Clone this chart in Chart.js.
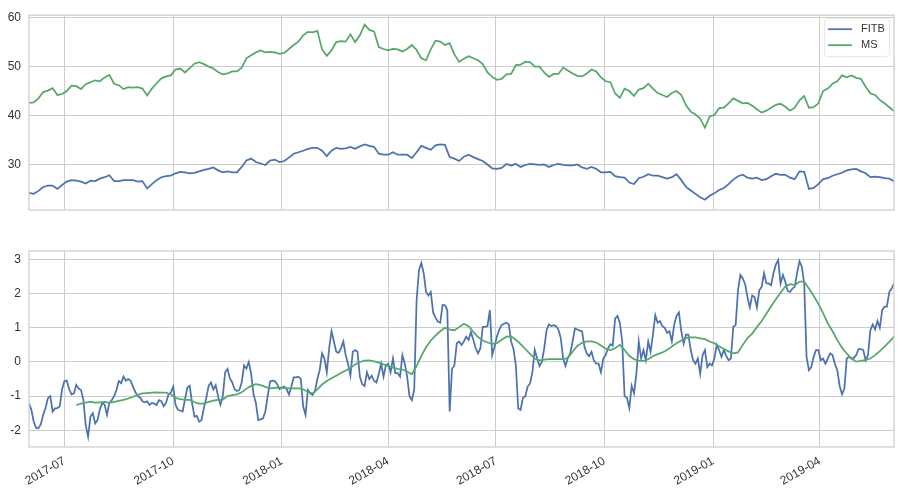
<!DOCTYPE html>
<html><head><meta charset="utf-8">
<script src="https://cdn.jsdelivr.net/npm/chart.js@4.4.0/dist/chart.umd.min.js"></script>
<style>
html,body{margin:0;padding:0;background:#fff;}
#wrap{position:relative;width:902px;height:492px;overflow:hidden;background:#fff;}
#c1{position:absolute;left:0;top:0;}
#c2{position:absolute;left:0;top:230px;}
</style></head><body>
<div id="wrap"><canvas id="c1" width="902" height="230"></canvas><canvas id="c2" width="902" height="262"></canvas></div>
<script>
// ---------------- data ----------------
const START_DATE = '2017-06-01';
const PRICE_STEP_DAYS = 4;     // spacing of price / rolling samples (calendar days)
const ZSCORE_STEP_DAYS = 2;    // spacing of z-score samples (calendar days)
const END_DATE = '2019-06-03';
const xTickLabels = ['2017-07','2017-10','2018-01','2018-04','2018-07','2018-10','2019-01','2019-04'];
const priceTicks = [30, 40, 50, 60];
const zTicks = [-2, -1, 0, 1, 2, 3];
const seriesNames = ['FITB', 'MS'];

const fitb = [24.2,24.0,24.6,25.4,25.7,25.7,25.0,25.8,26.5,26.8,
26.7,26.5,26.1,26.7,26.6,27.1,27.4,27.8,26.6,26.6,
26.8,26.8,26.8,26.5,26.6,25.1,26.0,26.8,27.4,27.6,
27.7,28.2,28.5,28.4,28.2,28.3,28.6,28.9,29.1,29.4,
28.8,28.4,28.6,28.4,28.4,29.5,30.8,31.2,30.5,30.2,
29.9,30.8,31.0,30.5,30.7,31.4,32.2,32.5,32.8,33.2,
33.4,33.4,32.8,31.7,32.8,33.4,33.2,33.3,33.6,33.2,
33.7,34.1,33.8,33.6,32.2,32.0,32.0,32.5,32.0,32.0,
32.0,31.3,32.5,33.8,33.4,33.0,33.9,34.1,34.0,31.5,
31.2,30.7,31.6,32.0,31.5,31.1,30.7,30.0,29.2,29.1,
29.3,30.1,29.8,30.1,29.5,29.9,30.1,30.0,29.9,30.0,
29.5,29.9,30.1,29.9,29.8,29.8,30.0,29.4,29.1,29.5,
29.1,28.4,28.4,28.5,27.6,27.4,27.3,26.3,26.0,27.2,
27.5,28.0,27.7,27.7,27.4,27.1,27.4,28.0,26.8,25.4,
24.7,24.0,23.3,22.8,23.6,24.1,24.8,25.2,26.0,26.9,
27.6,27.9,27.3,27.1,27.3,26.8,27.0,27.6,28.1,27.9,
27.9,27.3,27.0,28.6,28.5,25.0,25.2,26.0,27.0,27.2,
27.7,28.0,28.3,28.8,29.0,29.1,28.6,28.2,27.4,27.5,
27.4,27.2,27.1,26.6];

const ms = [42.6,42.7,43.5,44.8,45.1,45.6,44.2,44.4,45.0,46.1,
46.0,45.4,46.4,46.8,47.2,47.0,47.8,48.3,46.5,46.2,
45.4,45.8,45.7,45.8,45.5,44.1,45.5,46.6,47.6,48.0,
48.2,49.4,49.6,48.8,49.7,50.6,50.9,50.5,50.0,49.6,
48.9,48.4,48.6,49.0,49.0,49.8,51.7,52.3,52.9,53.3,
52.9,53.0,52.9,52.6,52.8,53.6,54.4,55.1,56.4,57.1,
57.0,57.3,53.5,52.2,53.3,55.0,55.2,55.1,56.6,55.0,
56.4,58.6,57.5,57.2,54.0,53.6,53.3,53.6,53.5,53.1,
53.6,54.4,53.4,51.7,51.3,53.5,55.3,55.1,54.4,54.8,
52.5,51.0,51.6,52.1,51.7,51.3,50.5,48.8,47.9,47.3,
47.5,48.4,48.5,50.3,50.4,51.0,50.9,50.0,50.0,48.8,
47.9,48.5,48.5,49.8,49.2,48.6,48.1,48.0,48.6,49.4,
49.0,47.8,47.0,46.8,44.5,43.6,45.5,45.0,44.0,45.3,
45.6,46.5,45.5,44.6,44.2,43.8,44.6,45.0,44.2,42.1,
40.8,40.2,39.4,37.5,39.8,40.1,41.5,41.6,42.5,43.5,
43.0,42.5,42.6,42.0,41.3,40.6,41.0,41.6,42.2,42.4,
41.8,41.0,41.6,43.1,44.0,41.6,41.7,42.5,45.0,45.5,
46.5,47.0,48.2,47.8,48.2,47.7,47.5,45.9,44.5,44.2,
43.2,42.5,41.7,40.9];

const zscore = [-1.21,-1.4,-1.75,-1.93,-1.94,-1.82,-1.55,-1.35,-1.06,-1.0,
-1.45,-1.36,-1.35,-1.3,-0.8,-0.56,-0.55,-0.8,-0.95,-0.92,
-0.67,-0.78,-0.82,-1.1,-1.85,-2.19,-1.6,-1.5,-1.8,-1.7,
-1.38,-1.2,-1.25,-1.55,-1.2,-1.12,-1.0,-0.82,-0.56,-0.62,
-0.43,-0.55,-0.5,-0.55,-0.72,-0.88,-1.0,-1.04,-1.15,-1.18,
-1.15,-1.26,-1.2,-1.22,-1.26,-1.12,-1.15,-1.3,-1.2,-0.95,
-0.9,-0.72,-1.25,-1.4,-1.42,-1.45,-1.1,-0.75,-0.7,-1.2,
-1.6,-1.58,-1.75,-1.7,-1.35,-1.06,-0.7,-0.6,-0.8,-0.68,
-1.0,-1.25,-1.0,-0.3,-0.2,-0.48,-0.6,-0.8,-0.85,-0.82,
-0.6,-0.1,-0.19,0.0,-0.35,-0.95,-1.2,-1.7,-1.68,-1.65,
-1.45,-1.0,-0.57,-0.55,-0.56,-0.65,-0.8,-0.75,-0.72,-0.8,
-0.95,-0.72,-0.45,-0.45,-0.43,-0.5,-1.3,-1.55,-0.82,-0.92,
-0.97,-0.85,-0.5,-0.24,0.25,0.1,-0.3,0.4,0.9,0.6,
0.3,0.27,0.4,0.6,0.2,-0.05,-0.4,0.3,0.35,0.3,
-0.43,-0.65,-0.7,-0.3,-0.5,-0.4,-0.55,-0.6,-0.35,-0.05,
-0.43,-0.1,-0.05,-0.3,0.1,-0.33,-0.33,-0.43,0.2,-0.05,
-0.43,-1.0,-1.12,-0.8,1.8,2.69,2.9,2.6,2.05,1.95,
2.05,1.45,1.3,1.18,1.15,1.67,1.66,1.52,-1.45,-0.2,
-0.1,0.55,0.6,0.5,0.6,0.74,0.65,0.88,0.65,0.4,
0.25,0.4,1.03,1.03,1.05,1.52,0.2,0.45,0.75,0.95,
1.08,1.12,1.15,1.1,0.6,0.38,-0.1,-1.36,-1.4,-1.05,
-1.0,-0.72,-0.63,-0.3,0.35,0.1,-0.12,0.0,0.4,0.93,
1.1,1.05,1.08,1.05,0.95,0.7,0.1,-0.12,0.12,0.25,
0.6,0.98,0.95,0.92,0.9,0.45,0.25,0.17,0.3,0.05,
-0.05,-0.05,-0.3,0.1,0.2,0.4,0.52,0.48,1.27,1.35,
1.15,0.6,-1.0,-1.05,-1.35,-0.7,-0.92,-0.35,0.6,0.1,
0.35,0.05,0.6,0.3,0.8,1.37,1.15,1.2,1.05,1.0,
0.85,0.9,0.6,1.1,1.35,1.45,0.9,0.54,0.8,0.8,
0.35,0.05,-0.05,0.1,-0.35,0.2,0.35,-0.15,-0.05,-0.1,
0.1,0.5,0.35,0.15,0.35,0.18,0.05,0.1,1.03,1.08,
2.1,2.55,2.45,2.28,1.9,1.6,1.95,1.9,1.6,2.1,
2.2,2.6,2.3,2.3,2.25,2.6,2.85,2.98,2.3,2.55,
2.35,2.08,2.05,2.15,2.2,2.6,2.95,2.79,2.3,0.15,
-0.24,-0.15,0.15,0.35,0.35,0.05,0.1,-0.05,0.1,0.25,
0.2,-0.05,-0.24,-0.7,-0.95,-0.78,0.1,0.15,0.1,0.12,
0.2,0.38,0.38,0.35,0.05,0.2,0.93,1.1,0.95,1.2,
1.0,1.52,1.62,1.62,2.05,2.15,2.3];

const zscoreRolling = [null,null,null,null,null,null,null,null,null,null,
-1.26,-1.22,-1.19,-1.16,-1.19,-1.18,-1.17,-1.2,-1.17,-1.14,
-1.11,-1.07,-1.02,-0.96,-0.92,-0.91,-0.9,-0.89,-0.9,-0.9,
-0.95,-1.05,-1.09,-1.11,-1.11,-1.18,-1.22,-1.22,-1.17,-1.13,
-1.11,-1.1,-1.0,-0.97,-0.95,-0.89,-0.78,-0.7,-0.65,-0.68,
-0.73,-0.77,-0.76,-0.75,-0.76,-0.77,-0.77,-0.77,-0.8,-0.88,
-0.92,-0.8,-0.66,-0.56,-0.48,-0.4,-0.32,-0.25,-0.18,-0.07,
0.0,0.04,0.05,0.02,-0.02,-0.07,-0.12,-0.17,-0.2,-0.22,
-0.28,-0.36,-0.12,0.18,0.43,0.63,0.77,0.9,1.0,0.95,
0.93,1.02,1.12,1.05,0.88,0.73,0.63,0.57,0.53,0.55,
0.65,0.74,0.75,0.65,0.52,0.38,0.24,0.1,0.05,0.07,
0.08,0.08,0.08,0.08,0.12,0.3,0.47,0.56,0.6,0.6,
0.57,0.48,0.39,0.35,0.4,0.5,0.35,0.18,0.08,0.04,
0.03,0.08,0.17,0.23,0.28,0.35,0.45,0.55,0.63,0.7,
0.72,0.72,0.69,0.67,0.6,0.55,0.46,0.38,0.31,0.25,
0.28,0.5,0.7,0.83,1.02,1.2,1.41,1.63,1.84,2.03,
2.21,2.28,2.25,2.35,2.35,2.15,1.94,1.7,1.43,1.13,
0.9,0.64,0.42,0.25,0.1,0.01,0.03,0.06,0.1,0.2,
0.32,0.45,0.59,0.74];

// ---------------- helpers ----------------
const BLUE = '#4C72B0', GREEN = '#55A868', GRID = '#cccccc', TEXT = '#333333';
const FONT = {family: "'Liberation Sans', Arial, Helvetica, sans-serif", size: 12};
const DAY_MS = 864e5;
const t0 = Date.parse(START_DATE + 'T00:00:00Z');
const dayOf = s => (Date.parse((s.length === 7 ? s + '-01' : s) + 'T00:00:00Z') - t0) / DAY_MS;
const xEnd = dayOf(END_DATE);
const xTickDays = xTickLabels.map(dayOf);
const toPoints = (arr, step) => arr.map((v, i) => ({x: i * step, y: v}));

Chart.defaults.font = FONT;
Chart.defaults.color = TEXT;
Chart.defaults.animation = false;

const frame = {
  id: 'frame',
  afterDraw(chart) {
    const a = chart.chartArea, ctx = chart.ctx;
    ctx.save();
    ctx.strokeStyle = GRID; ctx.lineWidth = 1.25;
    ctx.strokeRect(a.left, a.top, a.right - a.left, a.bottom - a.top);
    ctx.restore();
  }
};

const legendBox = {
  id: 'legendBox',
  afterDraw(chart) {
    const a = chart.chartArea, ctx = chart.ctx;
    const colors = [BLUE, GREEN];
    const bx = a.right - 70, by = a.top + 3, bw = 65, bh = 38;
    ctx.save();
    ctx.fillStyle = 'rgba(255,255,255,0.85)';
    ctx.strokeStyle = '#e8e8e8'; ctx.lineWidth = 1;
    ctx.beginPath();
    if (ctx.roundRect) ctx.roundRect(bx + 0.5, by + 0.5, bw, bh, 3); else ctx.rect(bx + 0.5, by + 0.5, bw, bh);
    ctx.fill(); ctx.stroke();
    ctx.font = "11px 'Liberation Sans', Arial, sans-serif";
    ctx.textBaseline = 'middle'; ctx.textAlign = 'left';
    seriesNames.forEach((n, k) => {
      const y = by + 11 + k * 16;
      ctx.strokeStyle = colors[k]; ctx.lineWidth = 1.75;
      ctx.beginPath(); ctx.moveTo(bx + 4, y); ctx.lineTo(bx + 28, y); ctx.stroke();
      ctx.fillStyle = TEXT;
      ctx.fillText(n, bx + 37, y);
    });
    ctx.restore();
  }
};

function xScale(showLabels, height) {
  return {
    type: 'linear', min: 0, max: xEnd,
    afterBuildTicks: s => { s.ticks = xTickDays.map(v => ({value: v})); },
    afterFit: s => { s.height = height; s.paddingLeft = 0; s.paddingRight = 0; },
    ticks: {
      display: showLabels, autoSkip: false, minRotation: 30, maxRotation: 30, padding: 7,
      callback: (v, i) => xTickLabels[i]
    },
    grid: {color: GRID, lineWidth: 1, drawTicks: false},
    border: {display: false}
  };
}
function yScale(min, max, ticks) {
  return {
    min: min, max: max,
    afterBuildTicks: s => { s.ticks = ticks.map(v => ({value: v})); },
    afterFit: s => { s.width = 29; },
    ticks: {padding: 8, callback: v => String(v)},
    grid: {color: GRID, lineWidth: 1, drawTicks: false},
    border: {display: false}
  };
}
const lineStyle = {borderWidth: 1.75, pointRadius: 0, tension: 0, fill: false, spanGaps: false};

new Chart(document.getElementById('c1'), {
  type: 'line',
  data: {datasets: [
    Object.assign({label: seriesNames[0], data: toPoints(fitb, PRICE_STEP_DAYS), borderColor: BLUE, order: 1}, lineStyle),
    Object.assign({label: seriesNames[1], data: toPoints(ms, PRICE_STEP_DAYS), borderColor: GREEN, order: 0}, lineStyle)
  ]},
  options: {
    responsive: false, devicePixelRatio: 1, parsing: false,
    layout: {padding: {left: 0, right: 8, top: 13, bottom: 20}},
    plugins: {legend: {display: false}, tooltip: {enabled: false}},
    scales: {x: xScale(false, 0), y: yScale(20.7, 60.5, priceTicks)}
  },
  plugins: [frame, legendBox]
});

new Chart(document.getElementById('c2'), {
  type: 'line',
  data: {datasets: [
    Object.assign({label: 'zscore', data: toPoints(zscore, ZSCORE_STEP_DAYS), borderColor: BLUE, order: 1}, lineStyle),
    Object.assign({label: 'rolling', data: toPoints(zscoreRolling, PRICE_STEP_DAYS), borderColor: GREEN, order: 0}, lineStyle)
  ]},
  options: {
    responsive: false, devicePixelRatio: 1, parsing: false,
    layout: {padding: {left: 0, right: 8, top: 21, bottom: 0}},
    plugins: {legend: {display: false}, tooltip: {enabled: false}},
    scales: {x: xScale(true, 45), y: yScale(-2.49, 3.25, zTicks)}
  },
  plugins: [frame]
});
</script>
</body></html>
